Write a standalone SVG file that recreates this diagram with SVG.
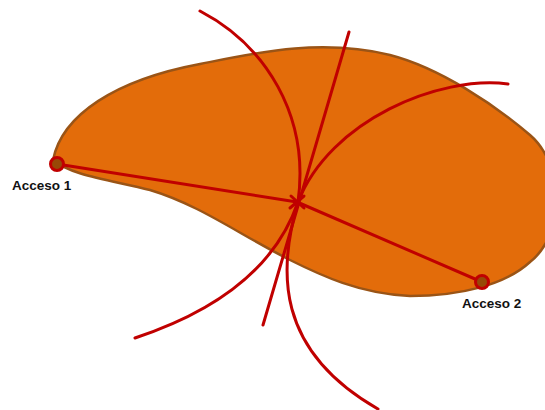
<svg xmlns="http://www.w3.org/2000/svg" width="545" height="410" viewBox="0 0 545 410">
<style>
.blob{fill:#e36c0a;stroke:#9a5416;stroke-width:2.5}
.red{fill:none;stroke:#c00000;stroke-width:3;stroke-linecap:round}
.pt{fill:#984807;stroke:#c00000;stroke-width:3}
.lbl{font-family:"Liberation Sans",Arial,sans-serif;font-weight:bold;font-size:13.5px;fill:#111111}
</style>
<rect width="545" height="410" fill="#ffffff"/>
<g id="area">
<path class="blob" d="M53,160 C62,115 115,80 200,64 C255,53 320,38 390,55 C440,68 495,105 530,135 C565,165 565,235 530,262 C505,285 460,296 410,296 C360,294 320,275 290,260 C240,235 200,205 150,190 C110,180 70,175 53,160 Z"/>
</g>
<g id="connectors">
<path class="red" d="M200,11 C265,45 310,115 298,202 C278,270 275,350 378,409"/>
<path class="red" d="M508,84 C440,75 330,120 298,202 C285,240 250,300 135,338"/>
<line class="red" x1="349" y1="32" x2="263" y2="325"/>
<line class="red" x1="57" y1="164" x2="297" y2="202"/>
<line class="red" x1="297" y1="202" x2="482" y2="282"/>
</g>
<g id="centro">
<line class="red" x1="291" y1="196" x2="304" y2="208"/>
<line class="red" x1="290" y1="208" x2="304" y2="196"/>
</g>
<g id="acceso1">
<circle class="pt" cx="57" cy="164" r="6.5"/>
<text class="lbl" x="12" y="190">Acceso 1</text>
</g>
<g id="acceso2">
<circle class="pt" cx="482" cy="282" r="6.5"/>
<text class="lbl" x="462" y="308">Acceso 2</text>
</g>
</svg>
